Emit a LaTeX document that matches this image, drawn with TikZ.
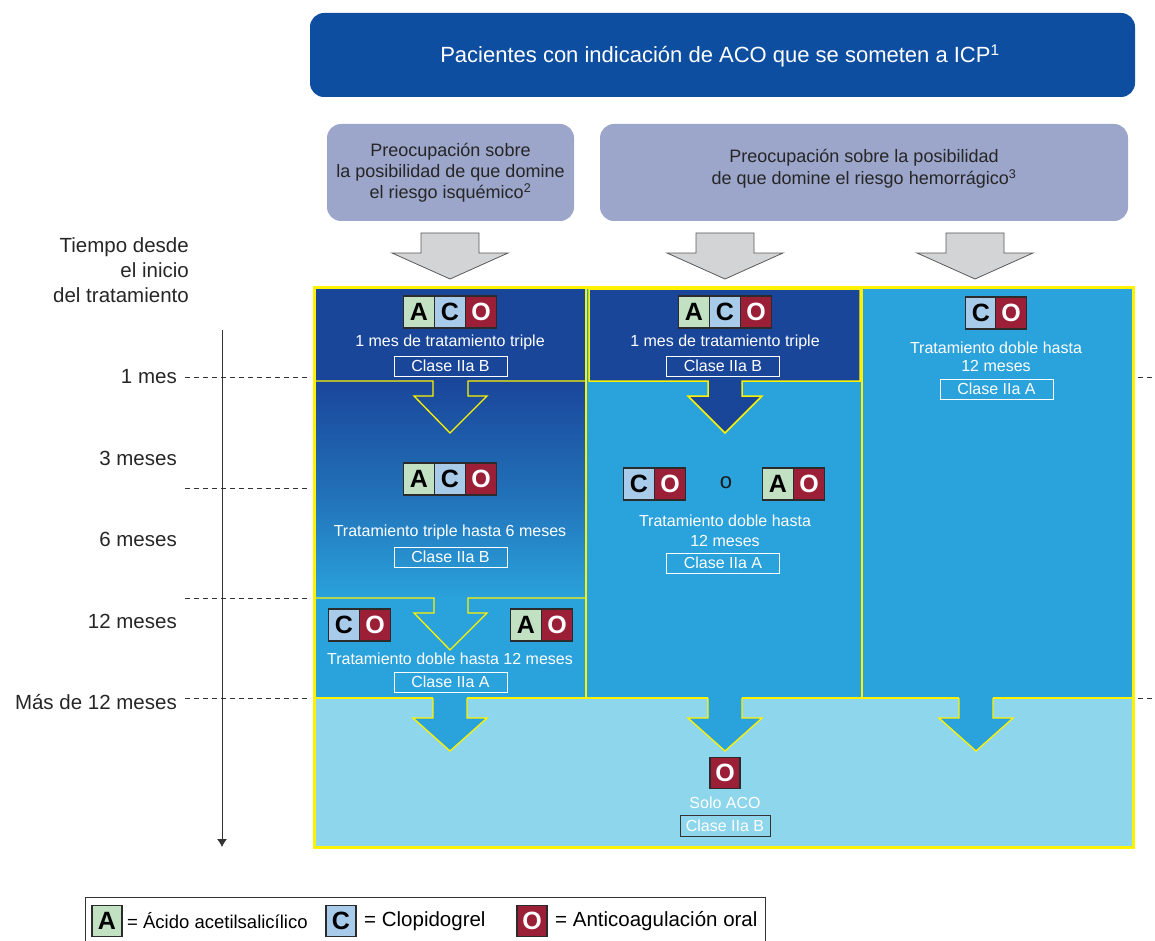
\documentclass[tikz,border=0pt]{standalone}
\usepackage{fontspec}
\setmainfont{Liberation Sans}
\usetikzlibrary{arrows.meta}
\definecolor{titleblue}{HTML}{0E4EA1}
\definecolor{dkblue}{HTML}{1A469A}
\definecolor{midblue}{HTML}{2AA2DB}
\definecolor{ltblue}{HTML}{8DD6EC}
\definecolor{grayblue}{HTML}{9CA5CA}
\definecolor{arrowgray}{HTML}{D3D4D5}
\definecolor{arrowedge}{HTML}{5A5A5A}
\definecolor{yel}{HTML}{FFF200}
\definecolor{tileA}{HTML}{C2E1C2}
\definecolor{tileC}{HTML}{A8CBEA}
\definecolor{tileO}{HTML}{9A1F37}
\definecolor{tileedge}{HTML}{2B2B2B}
\definecolor{axisgray}{HTML}{333333}
\tikzset{
  tile/.style={draw=tileedge, line width=1.2pt, minimum width=31pt, minimum height=32pt,
    inner sep=0pt, font=\fontsize{25}{25}\selectfont\bfseries},
  tA/.style={tile, fill=tileA, text=black},
  tC/.style={tile, fill=tileC, text=black},
  tO/.style={tile, fill=tileO, text=white},
  body/.style={text=white, font=\fontsize{16}{20}\selectfont, align=center, inner sep=0pt},
  clase/.style={draw=white, line width=1pt, text=white, minimum width=113pt, minimum height=20pt,
    inner sep=0pt, font=\fontsize{16}{16}\selectfont},
  grayarrow/.style={fill=arrowgray, draw=arrowedge, line width=0.8pt},
  yline/.style={draw=yel, line width=1.3pt},
  timelab/.style={anchor=east, font=\fontsize{20.5}{20.5}\selectfont, text=black!85, inner sep=0pt},
  dashline/.style={draw=axisgray, line width=0.8pt, dash pattern=on 5pt off 4pt},
  legtext/.style={anchor=west, font=\fontsize{20.5}{20.5}\selectfont, inner sep=0pt},
}
\begin{document}
\begin{tikzpicture}[x=1pt, y=-1pt]
\useasboundingbox (0,0) rectangle (1155,941);

% ---------- title ----------
\fill[titleblue, rounded corners=14pt] (310,13) rectangle (1135,97);
\node[text=white, font=\fontsize{22}{22}\selectfont, inner sep=0pt] (title) at (720,56)
  {Pacientes con indicación de ACO que se someten a ICP\textsuperscript{1}};

% ---------- gray boxes ----------
\fill[grayblue, rounded corners=14pt] (327,124) rectangle (574,221);
\fill[grayblue, rounded corners=14pt] (600,124) rectangle (1128,221);
\node[font=\fontsize{18}{21}\selectfont, align=center, text=black!85, inner sep=0pt] (isq) at (450.5,173)
  {Preocupación sobre\\la posibilidad de que domine\\el riesgo isquémico\textsuperscript{2}};
\node[font=\fontsize{18}{22}\selectfont, align=center, text=black!85, inner sep=0pt] (hem) at (864,169)
  {Preocupación sobre la posibilidad\\de que domine el riesgo hemorrágico\textsuperscript{3}};

% ---------- gray arrows ----------
\foreach \cx in {450,725,975}{
  \draw[grayarrow] (\cx-29,233) -- (\cx+29,233) -- (\cx+29,253) -- (\cx+58,253)
     -- (\cx,279) -- (\cx-58,253) -- (\cx-29,253) -- cycle;
}

% ---------- backgrounds ----------
\fill[dkblue] (314,287) rectangle (586,381);
\shade[top color=dkblue, bottom color=midblue, middle color=dkblue!55!midblue] (314,381) rectangle (586,598);
\fill[midblue] (314,598) rectangle (586,698);
\fill[midblue] (586,287) rectangle (1133,698);
\fill[ltblue] (314,698) rectangle (1133,847);

% column 2 dark box and arrow
\fill[dkblue] (589,289) rectangle (860,381);
\draw[yel, line width=1.5pt, fill=dkblue] (708,381) -- (589,381) -- (589,289) -- (860,289) -- (860,381)
   -- (742,381) -- (742,396) -- (762,396) -- (725,433) -- (688,396) -- (708,396) -- cycle;
\fill[dkblue] (709,378) rectangle (741,397);

% column 1 separators and open arrows
\draw[yline] (314,381) -- (433,381) -- (433,396) -- (414,396) -- (450,433) -- (487,396) -- (468,396) -- (468,381) -- (586,381);
\draw[yline] (314,598) -- (434,598) -- (434,613) -- (414,613) -- (450,650) -- (487,613) -- (468,613) -- (468,598) -- (586,598);

% vertical separators
\draw[yline] (586,287) -- (586,698);
\draw[yline] (862,287) -- (862,698);

% bottom arrows and separator
\foreach \cx in {450,725,976}{
  \fill[midblue] (\cx-17,697) rectangle (\cx+17,719);
  \draw[yline, fill=midblue] (\cx-17,698) -- (\cx-17,718) -- (\cx-37,718) -- (\cx,751) -- (\cx+37,718)
     -- (\cx+17,718) -- (\cx+17,698);
}
\draw[yline] (314,698) -- (433,698);
\draw[yline] (467,698) -- (708,698);
\draw[yline] (742,698) -- (959,698);
\draw[yline] (993,698) -- (1133,698);

% outer frame
\draw[yel, line width=3pt] (314,287) rectangle (1133,847);

% ---------- column 1 contents ----------
\node[tA] (a1) at (419,312) {A};
\node[tC] (c1) at (450,312) {C};
\node[tO] (o1) at (481,312) {O};
\node[body] (t1) at (450,342) {1 mes de tratamiento triple};
\node[clase] (k1) at (450.5,366) {Clase IIa B};

\node[tA] (a2) at (419,479) {A};
\node[tC] (c2) at (450,479) {C};
\node[tO] (o2) at (481,479) {O};
\node[body] (t2) at (450,532) {Tratamiento triple hasta 6 meses};
\node[clase] (k2) at (450.5,557) {Clase IIa B};

\node[tC] (c3) at (344,625) {C};
\node[tO] (o3) at (375,625) {O};
\node[tA] (a3) at (526,625) {A};
\node[tO] (o3b) at (557,625) {O};
\node[body] (t3) at (450,659) {Tratamiento doble hasta 12 meses};
\node[clase] (k3) at (450.5,682) {Clase IIa A};

% ---------- column 2 contents ----------
\node[tA] (a4) at (694,312) {A};
\node[tC] (c4) at (725,312) {C};
\node[tO] (o4) at (756,312) {O};
\node[body] (t4) at (725,342) {1 mes de tratamiento triple};
\node[clase] (k4) at (723,366) {Clase IIa B};

\node[tC] (c5) at (639,484) {C};
\node[tO] (o5) at (670,484) {O};
\node[font=\fontsize{22}{22}\selectfont, text=black!90, inner sep=0pt] (or5) at (726,483) {o};
\node[tA] (a5) at (778,484) {A};
\node[tO] (o5b) at (809,484) {O};
\node[body] (t5) at (725,531) {Tratamiento doble hasta\\12 meses};
\node[clase] (k5) at (723,563) {Clase IIa A};

% ---------- column 3 contents ----------
\node[tC] (c6) at (981,313) {C};
\node[tO] (o6) at (1011,313) {O};
\node[body, font=\fontsize{16}{17.5}\selectfont] (t6) at (996,357) {Tratamiento doble hasta\\12 meses};
\node[clase] (k6) at (996.5,389) {Clase IIa A};

% ---------- bottom row ----------
\node[tO, minimum width=30pt, minimum height=31pt] (o7) at (725,773) {O};
\node[body] (t7) at (725,803) {Solo ACO};
\node[clase, draw=axisgray, minimum width=90pt, minimum height=21pt] (k7) at (725,826) {Clase IIa B};

% ---------- time axis ----------
\node[font=\fontsize{20.5}{25}\selectfont, align=right, text=black!85, anchor=east, inner sep=0pt] (tiempo) at (189,270)
  {Tiempo desde\\el inicio\\del tratamiento};
\coordinate (axtop) at (222,330);
\coordinate (axbot) at (222,847);
\draw[axisgray, line width=1pt, -{Latex[length=8pt,width=10pt]}] (axtop) -- (axbot);

\node[timelab] (m1) at (177,377) {1 mes};
\node[timelab] (m3) at (177,458) {3 meses};
\node[timelab] (m6) at (177,539) {6 meses};
\node[timelab] (m12) at (177,621) {12 meses};
\node[timelab] (m13) at (177,702) {Más de 12 meses};

\draw[dashline] (185,377) -- (310,377);
\draw[dashline] (185,488) -- (310,488);
\draw[dashline] (185,598) -- (310,598);
\draw[dashline] (185,698) -- (310,698);
\draw[dashline] (1138,377) -- (1155,377);
\draw[dashline] (1138,698) -- (1155,698);

% ---------- legend ----------
\draw[black!80, line width=0.8pt] (85,945) -- (85,897) -- (765,897) -- (765,945);
\node[tA, minimum width=30pt, minimum height=31pt] (la) at (107,921) {A};
\node[legtext, font=\fontsize{18.5}{18.5}\selectfont] (lat) at (127,921) {= Ácido acetilsalicílico};
\node[tC, minimum width=30pt, minimum height=31pt] (lc) at (341,921) {C};
\node[legtext] (lct) at (364,921) {= Clopidogrel};
\node[tO, minimum width=30pt, minimum height=31pt] (lo) at (532,921) {O};
\node[legtext] (lot) at (555,921) {= Anticoagulación oral};
\end{tikzpicture}
\end{document}
